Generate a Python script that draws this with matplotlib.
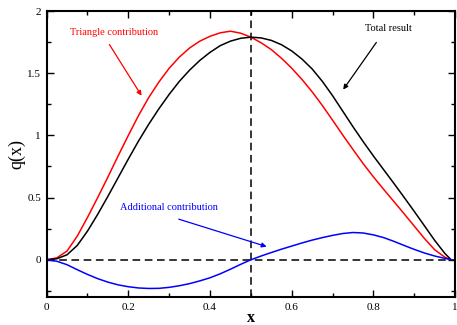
import numpy as np
import matplotlib
matplotlib.use('Agg')
import matplotlib.pyplot as plt
from matplotlib.ticker import MultipleLocator

plt.rcParams['font.family'] = ['Liberation Serif', 'DejaVu Serif']

# values, x step 0.025 (last point 0.99)
x = [0.0, 0.025, 0.05, 0.075, 0.1, 0.125, 0.15, 0.175, 0.2, 0.225,
     0.25, 0.275, 0.3, 0.325, 0.35, 0.375, 0.4, 0.425, 0.45, 0.475,
     0.5, 0.525, 0.55, 0.575, 0.6, 0.625, 0.65, 0.675, 0.7, 0.725,
     0.75, 0.775, 0.8, 0.825, 0.85, 0.875, 0.9, 0.925, 0.95, 0.975, 0.99]

total = [0.0, 0.008, 0.04, 0.115, 0.23, 0.365, 0.51, 0.66, 0.81, 0.955,
         1.09, 1.215, 1.33, 1.435, 1.525, 1.603, 1.668, 1.722, 1.758, 1.781,
         1.79, 1.784, 1.764, 1.729, 1.679, 1.614, 1.534, 1.434, 1.319, 1.194,
         1.069, 0.949, 0.834, 0.724, 0.614, 0.502, 0.388, 0.272, 0.155, 0.05, 0.0]

triangle = [0.0, 0.015, 0.07, 0.19, 0.34, 0.5, 0.665, 0.835, 1.0, 1.16,
            1.305, 1.43, 1.54, 1.63, 1.703, 1.758, 1.797, 1.825, 1.838, 1.822,
            1.79, 1.745, 1.69, 1.62, 1.54, 1.45, 1.35, 1.24, 1.122, 1.002,
            0.886, 0.772, 0.666, 0.566, 0.468, 0.37, 0.27, 0.17, 0.08, 0.02, 0.0]

additional = [0.0, -0.012, -0.04, -0.08, -0.118, -0.152, -0.18, -0.202, -0.217, -0.227,
              -0.231, -0.23, -0.222, -0.209, -0.192, -0.17, -0.145, -0.113, -0.076, -0.037,
              0.0, 0.03, 0.058, 0.085, 0.11, 0.135, 0.158, 0.178, 0.196, 0.211,
              0.219, 0.215, 0.2, 0.178, 0.148, 0.115, 0.083, 0.054, 0.03, 0.011, 0.0]

fig = plt.figure(figsize=(4.57, 3.25), dpi=100)
ax = fig.add_axes([0.102, 0.086, 0.894, 0.880])

ax.axhline(0, color='black', lw=1.1, ls=(0, (5, 3)), zorder=1)
ax.axvline(0.5, color='black', lw=1.1, ls=(0, (5, 3)), zorder=1)

ax.plot(x, triangle, color='red', lw=1.1)
ax.plot(x, total, color='black', lw=1.1)
ax.plot(x, additional, color='blue', lw=1.1)

fs = 7.5
ax.text(0.165, 1.83, 'Triangle contribution', color='red', fontsize=fs, ha='center', va='center')
ax.annotate('', xy=(0.236, 1.30), xytext=(0.150, 1.75),
            arrowprops=dict(arrowstyle='-|>', color='red', lw=0.9, mutation_scale=7))
ax.text(0.837, 1.86, 'Total result', color='black', fontsize=fs, ha='center', va='center')
ax.annotate('', xy=(0.722, 1.35), xytext=(0.811, 1.766),
            arrowprops=dict(arrowstyle='-|>', color='black', lw=0.9, mutation_scale=7))
ax.text(0.299, 0.417, 'Additional contribution', color='blue', fontsize=fs, ha='center', va='center')
ax.annotate('', xy=(0.545, 0.099), xytext=(0.317, 0.333),
            arrowprops=dict(arrowstyle='-|>', color='blue', lw=0.9, mutation_scale=7))

ax.set_xlim(0, 1)
ax.set_ylim(-0.3, 2)
ax.xaxis.set_minor_locator(MultipleLocator(0.1))
ax.yaxis.set_minor_locator(MultipleLocator(0.25))
ax.set_xticks([0, 0.2, 0.4, 0.6, 0.8, 1.0])
ax.set_xticklabels(['0', '0.2', '0.4', '0.6', '0.8', '1'])
ax.set_yticks([0, 0.5, 1.0, 1.5, 2.0])
ax.set_yticklabels(['0', '0.5', '1', '1.5', '2'])
ax.tick_params(which='both', direction='in', top=True, right=True, labelsize=8, width=1.0)
ax.tick_params(which='major', length=5, pad=4)
ax.tick_params(which='minor', length=3)
for s in ax.spines.values():
    s.set_linewidth(1.5)

ax.set_xlabel('x', fontsize=11.5, fontweight='bold', labelpad=-1)
ax.set_ylabel('q(x)', fontsize=13, labelpad=1)

fig.savefig('out.png', dpi=100)
